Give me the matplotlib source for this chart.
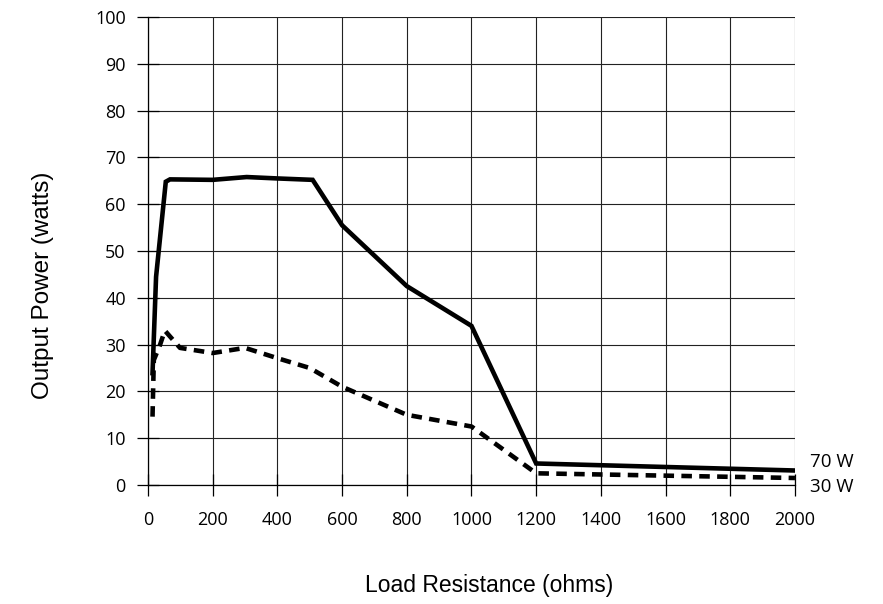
import matplotlib.pyplot as plt
import numpy as np

# load resistance (ohms) and output power (watts)
r_70 = [14, 25, 55, 68, 200, 305, 400, 509, 600, 800, 1000, 1200, 2000]
p_70 = [23.9, 44.5, 64.8, 65.3, 65.2, 65.8, 65.5, 65.2, 55.5, 42.5, 34, 4.6, 3.1]

r_30 = [14, 18, 37, 52, 99, 200, 300, 400, 500, 600, 800, 1000, 1200, 2000]
p_30 = [14.6, 26.7, 29.9, 33, 29.3, 28.2, 29.3, 27.1, 25, 21, 15, 12.5, 2.5, 1.5]

x_ticks = np.arange(0, 2001, 200)
y_ticks = np.arange(0, 101, 10)

plt.rcParams['font.family'] = ['Open Sans', 'DejaVu Sans']

fig = plt.figure(figsize=(8.83, 6.04), dpi=100)
ax = fig.add_axes([0.1676, 0.197, 0.9003 - 0.1676, 0.9719 - 0.197])

ax.plot(r_70, p_70, color='black', lw=3.3, solid_joinstyle='miter', zorder=3)
ax.plot(r_30, p_30, color='black', lw=3.3, linestyle=(0, (2.3, 1.6)), zorder=3)

ax.set_xlim(0, 2000)
ax.set_ylim(0, 100)
ax.set_xticks(x_ticks)
ax.set_yticks(y_ticks)
ax.grid(True, color='#222222', lw=0.8)
ax.set_axisbelow(True)
for s in ['top', 'right']:
    ax.spines[s].set_visible(False)
for s in ['left', 'bottom']:
    ax.spines[s].set_linewidth(0.9)
ax.tick_params(direction='inout', length=16, width=0.9, labelsize=13)
ax.tick_params(axis='x', pad=11)
ax.tick_params(axis='y', pad=8)

ax.text(2046, 5, '70 W', fontsize=13.5, va='center', ha='left')
ax.text(2046, -0.5, '30 W', fontsize=13.5, va='center', ha='left')

fig.text(0.049, 0.528, 'Output Power (watts)', rotation=90, fontsize=17.5,
         family=['Liberation Sans', 'DejaVu Sans'], ha='center', va='center')
fig.text(0.554, 0.031, 'Load Resistance (ohms)', fontsize=16.5,
         family=['Liberation Sans', 'DejaVu Sans'], ha='center', va='center')

fig.savefig('out.png', dpi=100)
